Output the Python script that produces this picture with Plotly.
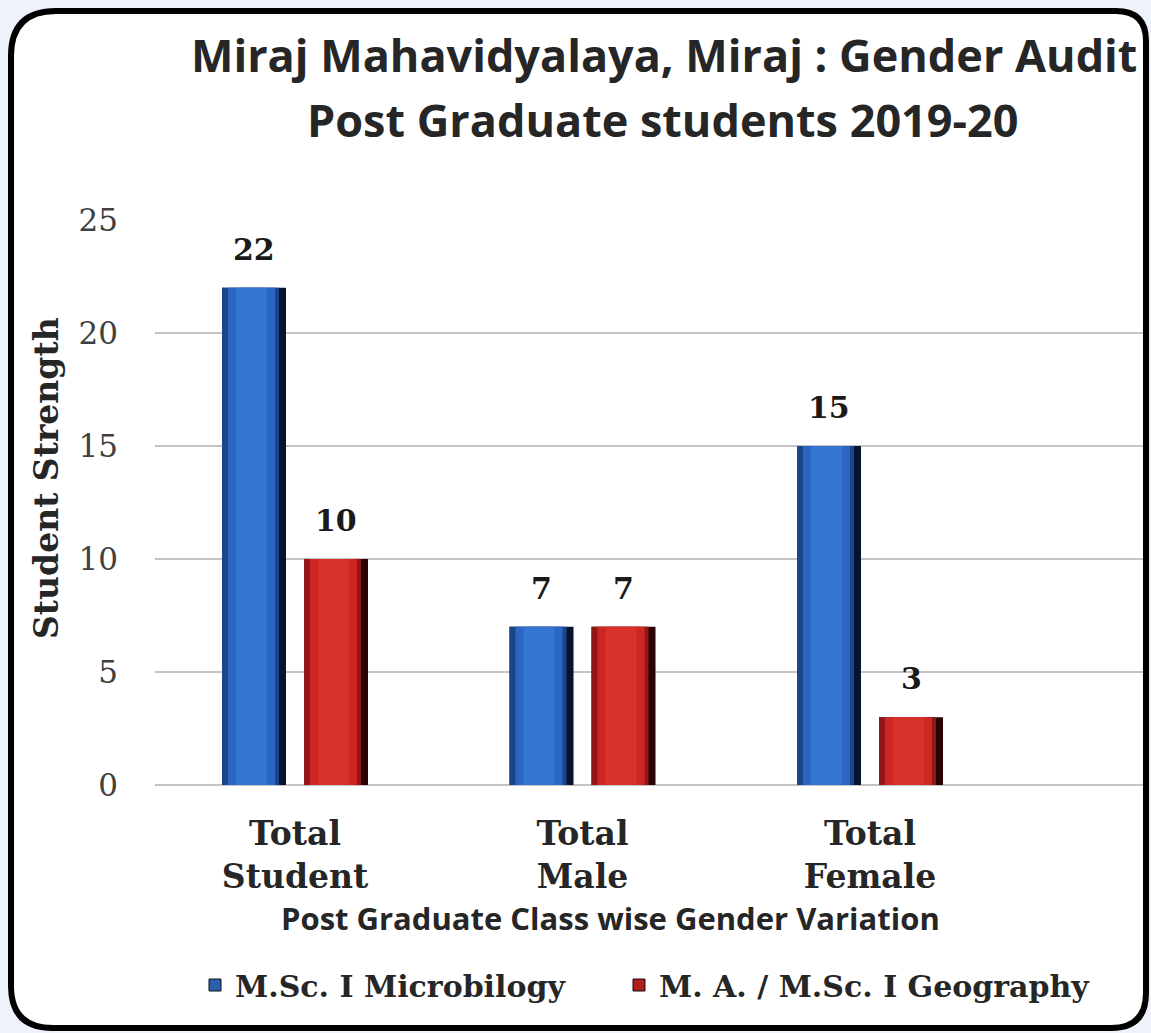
import plotly.graph_objects as go

# ---- data ----
categories = ["Total<br>Student", "Total<br>Male", "Total<br>Female"]
series_names = ["M.Sc. I Microbilogy", "M. A. / M.Sc. I Geography"]
microbiology = [22, 7, 15]
geography = [10, 7, 3]
y_ticks = [0, 5, 10, 15, 20, 25]

title_line1 = "Miraj Mahavidyalaya, Miraj : Gender Audit"
title_line2 = "Post Graduate students 2019-20"
x_title = "Post Graduate Class wise Gender Variation"
y_title = "Student Strength"

# ---- geometry (pixels) ----
W, H = 1151, 1033
PL, PR, PT, PB = 155, 1143, 220, 785
D = 287.5          # pixels per category
C0 = 295           # pixel centre of first category
BW = 64            # bar width px


def px2x(px):
    return (px - PL) / (PR - PL)


def py2y(py):
    return (PB - py) / (PB - PT)


serif = "DejaVu Serif"
sans = "Open Sans"

fig = go.Figure()

# layered bars for a bevelled look: (offset_px, width_px, colour)
blue_layers = [(0, BW, "#061430"), (0, BW - 7, "#1b468a"), (6, BW - 17, "#2a66c2"), (14, BW - 33, "#3474d2")]
red_layers = [(0, BW, "#2a0404"), (0, BW - 7, "#911616"), (6, BW - 17, "#cc2723"), (14, BW - 33, "#d9312c")]

for vals, layers, start_px, name, legend_col, leg in [
    (microbiology, blue_layers, -73, series_names[0], "#2a5fae", "legend"),
    (geography, red_layers, 9, series_names[1], "#b01f1c", "legend2"),
]:
    for i, (o, w, col) in enumerate(layers):
        fig.add_trace(go.Bar(
            x=categories, y=vals,
            offset=(start_px + o) / D, width=w / D,
            marker=dict(color=col, line=dict(width=0)),
            name=name, showlegend=False, hoverinfo="skip",
        ))
    # legend entry
    fig.add_trace(go.Bar(
        x=[None], y=[None], name=name, legend=leg,
        marker=dict(color=legend_col, line=dict(color="#111111", width=1)),
        showlegend=True,
    ))

# value labels
annotations = []
for vals, xs in [(microbiology, -41), (geography, 41)]:
    for c, v in zip(categories, vals):
        annotations.append(dict(
            x=c, y=v, xref="x", yref="y", text=f"<b>{v}</b>", showarrow=False,
            xshift=xs, yshift=19, yanchor="bottom", xanchor="center",
            font=dict(family=serif, size=30, color="#1a1a1a"),
        ))

# titles
annotations += [
    dict(x=px2x(664), y=py2y(54), xref="paper", yref="paper", text=f"<b>{title_line1}</b>",
         showarrow=False, xanchor="center", yanchor="middle",
         font=dict(family=sans, size=45, color="#262626")),
    dict(x=px2x(663), y=py2y(120), xref="paper", yref="paper", text=f"<b>{title_line2}</b>",
         showarrow=False, xanchor="center", yanchor="middle",
         font=dict(family=sans, size=45, color="#262626")),
    dict(x=px2x(610), y=py2y(918), xref="paper", yref="paper", text=f"<b>{x_title}</b>",
         showarrow=False, xanchor="center", yanchor="middle",
         font=dict(family=sans, size=31, color="#262626")),
    dict(x=px2x(46), y=py2y(478), xref="paper", yref="paper", text=f"<b>{y_title}</b>",
         showarrow=False, textangle=-90, xanchor="center", yanchor="middle",
         font=dict(family=serif, size=33, color="#262626")),
]

# rounded border box
L, T, R, B = 11, 11, 1146, 1028
rtl, rtr, rbr, rbl = 45, 30, 35, 42


def P(px, py):
    return f"{px2x(px):.5f},{py2y(py):.5f}"


path = (f"M {P(L + rtl, T)} L {P(R - rtr, T)} Q {P(R, T)} {P(R, T + rtr)} "
        f"L {P(R, B - rbr)} Q {P(R, B)} {P(R - rbr, B)} "
        f"L {P(L + rbl, B)} Q {P(L, B)} {P(L, B - rbl)} "
        f"L {P(L, T + rtl)} Q {P(L, T)} {P(L + rtl, T)} Z")

legend_font = dict(family=serif, size=30, color="#262626", weight="bold")

fig.update_layout(
    width=W, height=H,
    margin=dict(l=PL, r=W - PR, t=PT, b=H - PB, pad=0),
    paper_bgcolor="#eef3fb", plot_bgcolor="rgba(0,0,0,0)",
    barmode="overlay",
    showlegend=True,
    legend=dict(orientation="h", x=px2x(195), y=py2y(959), xanchor="left", yanchor="top",
                font=legend_font, bgcolor="rgba(0,0,0,0)"),
    legend2=dict(orientation="h", x=px2x(619), y=py2y(959), xanchor="left", yanchor="top",
                 font=legend_font, bgcolor="rgba(0,0,0,0)"),
    annotations=annotations,
    shapes=[dict(type="path", xref="paper", yref="paper", path=path,
                 line=dict(color="black", width=6), fillcolor="white", layer="below")],
    xaxis=dict(range=[(PL - C0) / D, (PR - C0) / D], showgrid=False, zeroline=False,
               showline=False, ticks="",
               tickfont=dict(family=serif, size=33, color="#262626", weight="bold"),
               ticklabelstandoff=26),
    yaxis=dict(range=[0, 25], tickvals=y_ticks, showgrid=True, gridcolor="#c4c4c4", gridwidth=2,
               zeroline=True, zerolinecolor="#c4c4c4", zerolinewidth=2, showline=False, ticks="",
               tickfont=dict(family=serif, size=31, color="#404040"), ticklabelstandoff=36),
)

fig.write_html("out.html", config={"displayModeBar": False},
               post_script="document.body.style.margin='0';document.body.style.overflow='hidden';")
